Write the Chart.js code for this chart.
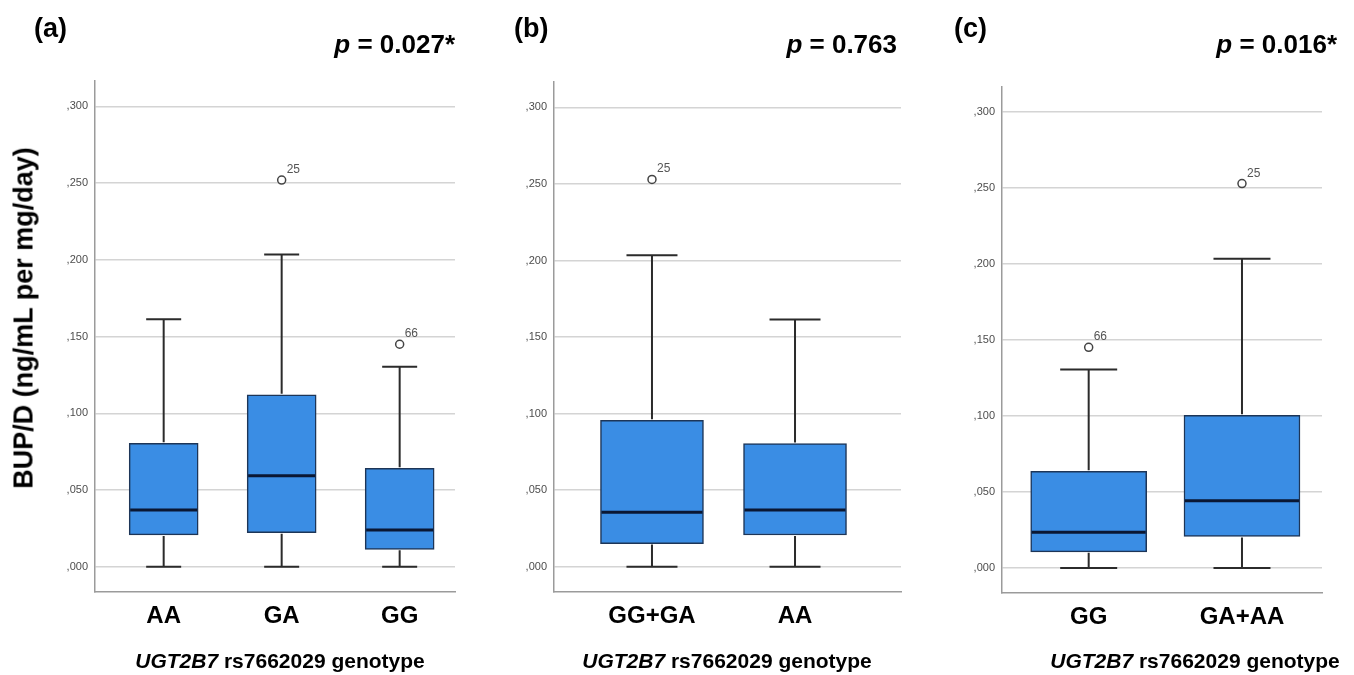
<!DOCTYPE html>
<html>
<head>
<meta charset="utf-8">
<script src="https://cdn.jsdelivr.net/npm/chart.js@4.4.1/dist/chart.umd.min.js"></script>
<style>
html,body{margin:0;padding:0;background:#fff;}
#wrap{position:relative;width:1354px;height:675px;overflow:hidden;font-family:"Liberation Sans",Arial,sans-serif;background:#fff;}
canvas{position:absolute;top:0;}
.lbl{position:absolute;font-weight:bold;color:#000;white-space:nowrap;line-height:1;}
.panel{font-size:27px;top:15px;}
.pval{font-size:26px;top:31px;}
.xt{font-size:21px;top:650px;transform:translateX(-50%);}
.yt{font-size:27px;transform:translate(-50%,-50%) rotate(-90deg);}
</style>
</head>
<body>
<div id="wrap">
  <div class="lbl panel" style="left:34px;">(a)</div>
  <div class="lbl panel" style="left:514px;">(b)</div>
  <div class="lbl panel" style="left:954px;">(c)</div>
  <div class="lbl pval" style="right:899px;"><i>p</i> = 0.027*</div>
  <div class="lbl pval" style="right:457px;"><i>p</i> = 0.763</div>
  <div class="lbl pval" style="right:17px;"><i>p</i> = 0.016*</div>
  <div class="lbl yt" style="left:24px;top:318px;">BUP/D (ng/mL per mg/day)</div>
  <div class="lbl xt" style="left:280px;"><i>UGT2B7</i> rs7662029 genotype</div>
  <div class="lbl xt" style="left:727px;"><i>UGT2B7</i> rs7662029 genotype</div>
  <div class="lbl xt" style="left:1195px;"><i>UGT2B7</i> rs7662029 genotype</div>
</div>
<script>
// ---------- data ----------
const yTicks = [0, 0.05, 0.10, 0.15, 0.20, 0.25, 0.30];

// Panel (a)
const catsA   = ['AA', 'GA', 'GG'];
const minA    = [0.000, 0.000, 0.000];
const q1A     = [0.0207, 0.0222, 0.0113];
const medA    = [0.0370, 0.0593, 0.0239];
const q3A     = [0.0804, 0.1120, 0.0641];
const maxA    = [0.1613, 0.2035, 0.1304];
const outA    = [[], [0.252], [0.145]];
const outIdA  = [[], ['25'], ['66']];

// Panel (b)
const catsB   = ['GG+GA', 'AA'];
const minB    = [0.000, 0.000];
const q1B     = [0.0151, 0.0207];
const medB    = [0.0356, 0.0370];
const q3B     = [0.0956, 0.0805];
const maxB    = [0.2034, 0.1615];
const outB    = [[0.253], []];
const outIdB  = [['25'], []];

// Panel (c)
const catsC   = ['GG', 'GA+AA'];
const minC    = [0.000, 0.000];
const q1C     = [0.0106, 0.0207];
const medC    = [0.0235, 0.0442];
const q3C     = [0.0636, 0.1005];
const maxC    = [0.1306, 0.2036];
const outC    = [[0.1452], [0.253]];
const outIdC  = [['66'], ['25']];

// ---------- drawing ----------
const FONT = '"Liberation Sans", Arial, sans-serif';
const wrap = document.getElementById('wrap');

function makeBoxPlugin(st, layout) {
  return {
    id: 'boxWhiskers',
    afterDatasetsDraw(chart) {
      const ctx = chart.ctx;
      const xS = chart.scales.x, yS = chart.scales.y;
      ctx.save();
      st.mins.forEach((mn, i) => {
        const cx = xS.getPixelForValue(i + 1);
        const yMin = yS.getPixelForValue(mn);
        const yQ1 = yS.getPixelForValue(st.q1s[i]);
        const yMed = yS.getPixelForValue(st.meds[i]);
        const yQ3 = yS.getPixelForValue(st.q3s[i]);
        const yMax = yS.getPixelForValue(st.maxs[i]);
        const half = layout.capPx / 2;
        ctx.strokeStyle = '#2b2b2b';
        ctx.lineWidth = 2;
        ctx.lineCap = 'butt';
        ctx.beginPath();
        ctx.moveTo(cx, yQ3 - 1); ctx.lineTo(cx, yMax);
        ctx.moveTo(cx - half, yMax); ctx.lineTo(cx + half, yMax);
        ctx.moveTo(cx, yQ1 + 1); ctx.lineTo(cx, yMin);
        ctx.moveTo(cx - half, yMin); ctx.lineTo(cx + half, yMin);
        ctx.stroke();
        const bh = layout.boxPx / 2;
        ctx.strokeStyle = '#0a1733';
        ctx.lineWidth = 3;
        ctx.beginPath();
        ctx.moveTo(cx - bh + 1, yMed); ctx.lineTo(cx + bh - 1, yMed);
        ctx.stroke();
      });
      const meta = chart.getDatasetMeta(1);
      const raw = chart.data.datasets[1].data;
      ctx.fillStyle = '#555';
      ctx.font = '12px ' + FONT;
      ctx.textAlign = 'left';
      ctx.textBaseline = 'alphabetic';
      meta.data.forEach((pt, j) => {
        ctx.fillText(raw[j].id, pt.x + 5, pt.y - 7);
      });
      ctx.restore();
    }
  };
}

function makePanel(layout, st) {
  const canvas = document.createElement('canvas');
  canvas.width = layout.width;
  canvas.height = 675;
  canvas.style.left = layout.left + 'px';
  canvas.style.width = layout.width + 'px';
  canvas.style.height = '675px';
  wrap.insertBefore(canvas, wrap.firstChild);

  const xs = st.cats.map((c, i) => i + 1);
  const boxData = st.cats.map((c, i) => ({ x: i + 1, y: [st.q1s[i], st.q3s[i]] }));
  const outData = [];
  st.outs.forEach((arr, i) => arr.forEach((v, j) => outData.push({ x: i + 1, y: v, id: st.outIds[i][j] })));

  new Chart(canvas, {
    type: 'bar',
    data: {
      datasets: [
        {
          type: 'bar',
          data: boxData,
          backgroundColor: '#3a8de4',
          borderColor: '#1d3557',
          borderWidth: 1.5,
          borderSkipped: false,
          barThickness: layout.boxPx,
          order: 2
        },
        {
          type: 'scatter',
          data: outData,
          pointStyle: 'circle',
          pointRadius: 4,
          pointBackgroundColor: '#ffffff',
          pointBorderColor: '#444444',
          pointBorderWidth: 1.5,
          order: 1
        }
      ]
    },
    options: {
      responsive: false,
      animation: false,
      devicePixelRatio: 1,
      layout: { padding: { left: 0, right: layout.padRight, top: layout.padTop, bottom: 0 } },
      plugins: { legend: { display: false }, tooltip: { enabled: false } },
      scales: {
        x: {
          type: 'linear',
          offset: false,
          min: layout.xMin,
          max: layout.xMax,
          grid: { display: false, drawTicks: false },
          border: { display: true, color: '#9b9b9b', width: 1.5 },
          afterBuildTicks: s => { s.ticks = xs.map(v => ({ value: v })); },
          ticks: {
            callback: v => st.cats[v - 1] || '',
            font: { family: FONT, size: 24, weight: 'bold' },
            color: '#000',
            padding: layout.xTickPad,
            maxRotation: 0,
            autoSkip: false
          },
          afterFit: s => { s.height = layout.xAxisH; s.paddingLeft = 0; s.paddingRight = 0; }
        },
        y: {
          type: 'linear',
          min: -0.0165,
          max: 0.3166,
          grid: { color: '#d4d4d4', lineWidth: 1.5, drawTicks: false },
          border: { display: true, color: '#9b9b9b', width: 1.5 },
          afterBuildTicks: s => { s.ticks = yTicks.map(v => ({ value: v })); },
          ticks: {
            callback: v => v.toFixed(3).replace(/^0\./, ','),
            font: { family: FONT, size: 11 },
            color: '#4d4d4d',
            padding: 7
          },
          afterFit: s => { s.width = layout.yAxisW; s.paddingTop = 0; s.paddingBottom = 0; }
        }
      }
    },
    plugins: [makeBoxPlugin(st, layout)]
  });
}

makePanel(
  { left: 0, width: 470, padTop: 81, padRight: 15, yAxisW: 95, xAxisH: 83, xMin: 0.418, xMax: 3.469, boxPx: 69, capPx: 35, xTickPad: 10 },
  { cats: catsA, mins: minA, q1s: q1A, meds: medA, q3s: q3A, maxs: maxA, outs: outA, outIds: outIdA }
);
makePanel(
  { left: 470, width: 460, padTop: 82, padRight: 29, yAxisW: 84, xAxisH: 83, xMin: 0.315, xMax: 2.741, boxPx: 103, capPx: 51, xTickPad: 10 },
  { cats: catsB, mins: minB, q1s: q1B, meds: medB, q3s: q3B, maxs: maxB, outs: outB, outIds: outIdB }
);
makePanel(
  { left: 930, width: 424, padTop: 87, padRight: 32, yAxisW: 72, xAxisH: 82, xMin: 0.4345, xMax: 2.522, boxPx: 116, capPx: 57, xTickPad: 10 },
  { cats: catsC, mins: minC, q1s: q1C, meds: medC, q3s: q3C, maxs: maxC, outs: outC, outIds: outIdC }
);
</script>
</body>
</html>
